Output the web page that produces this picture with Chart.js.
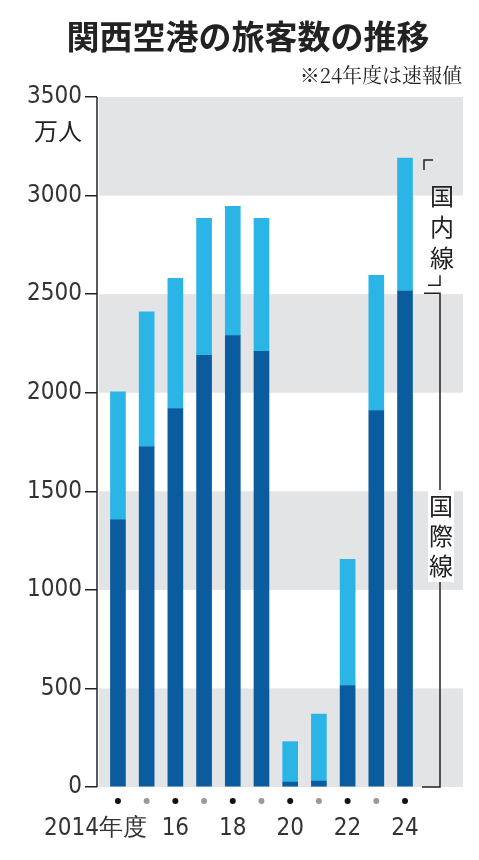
<!DOCTYPE html>
<html><head><meta charset="utf-8">
<script src="https://cdn.jsdelivr.net/npm/chart.js@4"></script>
<style>
html,body{margin:0;padding:0;background:#fff;}
#wrap{position:relative;width:479px;height:860px;}
canvas{position:absolute;left:0;top:0;}
</style></head>
<body><div id="wrap"><canvas id="c" width="479" height="860"></canvas></div>
<script>
const YEARS = [2014, 2015, 2016, 2017, 2018, 2019, 2020, 2021, 2022, 2023, 2024];
const INTL = [1355, 1725, 1920, 2190, 2290, 2210, 25, 30, 515, 1910, 2515];
const TOTAL = [2005, 2410, 2580, 2885, 2945, 2885, 230, 370, 1155, 2595, 3190];
const DOMESTIC = TOTAL.map((t, i) => t - INTL[i]);
const Y_TICKS = [0, 500, 1000, 1500, 2000, 2500, 3000, 3500];
const X_LABELS = { 2014: '2014年度', 2016: '16', 2018: '18', 2020: '20', 2022: '22', 2024: '24' };

const LIGHT = '#2bb5e6';
const DARK = '#0b5c9e';
const BAND = '#e3e4e6';
const INK = '#333';
const SANS = '"Noto Sans CJK JP", "Noto Sans", sans-serif';
const COND = '"Liberation Sans Narrow", "DejaVu Sans Condensed", "Liberation Sans", sans-serif';

const decor = {
  id: 'decor',
  beforeDatasetsDraw(chart) {
    const { ctx, chartArea: a, scales: { y } } = chart;
    ctx.save();
    ctx.fillStyle = BAND;
    for (let v = 0; v < 3500; v += 1000) {
      const t = y.getPixelForValue(v + 500), b = y.getPixelForValue(v);
      ctx.fillRect(a.left + 2, t, a.right - a.left - 2, b - t);
    }
    ctx.restore();
  },
  afterDraw(chart) {
    const { ctx, chartArea: a, scales: { x, y } } = chart;
    ctx.save();
    ctx.fillStyle = '#222';
    ctx.textBaseline = 'middle';
    ctx.textAlign = 'center';
    ctx.font = `bold 33px ${SANS}`;
    ctx.fillText('関西空港の旅客数の推移', 248, 36);
    ctx.textAlign = 'right';
    ctx.font = `20px "Noto Serif CJK JP", "DejaVu Serif", serif`;
    ctx.fillText('※24年度は速報値', 462, 75);
    ctx.font = `24px ${SANS}`;
    ctx.fillText('万人', 82, 131);
    // y axis line
    ctx.strokeStyle = '#222';
    ctx.lineWidth = 1.5;
    ctx.beginPath();
    ctx.moveTo(a.left, y.getPixelForValue(3500));
    ctx.lineTo(a.left, y.getPixelForValue(0));
    ctx.stroke();
    // dots and x labels
    YEARS.forEach((yr) => {
      const px = x.getPixelForValue(yr);
      ctx.fillStyle = yr % 2 === 0 ? '#111' : '#999';
      ctx.beginPath();
      ctx.arc(px, 801, 3, 0, Math.PI * 2);
      ctx.fill();
      if (X_LABELS[yr]) {
        ctx.fillStyle = INK;
        ctx.font = `24px ${COND}`;
        ctx.textAlign = yr === 2014 ? 'left' : 'center';
        ctx.fillText(X_LABELS[yr], yr === 2014 ? 44 : px, 829);
      }
    });
    // brackets
    const last = YEARS.length - 1;
    const bx = 440;
    const tTop = y.getPixelForValue(TOTAL[last]);
    const iTop = y.getPixelForValue(INTL[last]);
    const zero = y.getPixelForValue(0);
    ctx.strokeStyle = '#222';
    ctx.lineWidth = 1.5;
    ctx.beginPath();
    ctx.moveTo(433, tTop + 2); ctx.lineTo(424, tTop + 2); ctx.lineTo(424, tTop + 12);
    ctx.moveTo(bx, iTop - 16); ctx.lineTo(bx, iTop - 6); ctx.lineTo(428, iTop - 6);
    ctx.moveTo(424, iTop + 2); ctx.lineTo(bx, iTop + 2); ctx.lineTo(bx, zero); ctx.lineTo(422, zero);
    ctx.stroke();
    ctx.fillStyle = '#222';
    ctx.textAlign = 'center';
    ctx.font = `24px ${SANS}`;
    ['国', '内', '線'].forEach((ch, i) => ctx.fillText(ch, 442, 196 + i * 31));
    const mid = 536;
    ctx.fillStyle = '#fff';
    ctx.fillRect(428, mid - 46, 26, 92);
    ctx.fillStyle = '#222';
    ['国', '際', '線'].forEach((ch, i) => ctx.fillText(ch, 441, mid - 30 + i * 30));
    ctx.restore();
  },
};

new Chart(document.getElementById('c'), {
  type: 'bar',
  data: {
    datasets: [
      { label: '国際線', data: YEARS.map((yr, i) => ({ x: yr, y: INTL[i] })), backgroundColor: DARK },
      { label: '国内線', data: YEARS.map((yr, i) => ({ x: yr, y: DOMESTIC[i] })), backgroundColor: LIGHT },
    ],
  },
  options: {
    responsive: false,
    animation: false,
    layout: { padding: { top: 97, bottom: 65, right: 16, left: 0 } },
    datasets: { bar: { barThickness: 15 } },
    plugins: { legend: { display: false }, tooltip: { enabled: false } },
    scales: {
      x: {
        type: 'linear', stacked: true, min: 2013.27, max: 2026.02, offset: false,
        ticks: { display: false }, grid: { display: false }, border: { display: false },
      },
      y: {
        stacked: true, min: 0, max: 3500,
        afterBuildTicks: (s) => { s.ticks = Y_TICKS.map((v) => ({ value: v })); },
        afterFit: (s) => { s.width = 97; },
        ticks: { color: INK, font: { family: COND, size: 24 }, padding: 3, callback: (v) => String(v) },
        grid: { drawOnChartArea: false, tickLength: 12, color: '#222', lineWidth: 1.5 },
        border: { display: false },
      },
    },
  },
  plugins: [decor],
});
</script></body></html>
